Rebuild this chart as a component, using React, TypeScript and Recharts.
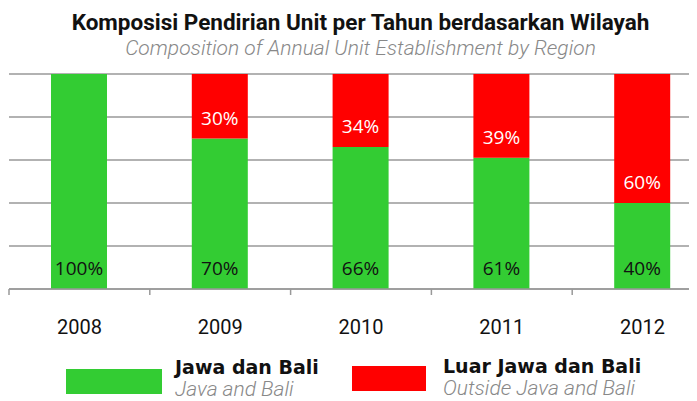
import React from "react";
import { BarChart, Bar, XAxis, YAxis, CartesianGrid, LabelList } from "recharts";

const years = ["2008", "2009", "2010", "2011", "2012"];
const javaBali = [100, 70, 66, 61, 40];
const outsideJavaBali = [0, 30, 34, 39, 60];
const yTicks = [0, 20, 40, 60, 80, 100];

const seriesNames = ["Jawa dan Bali", "Luar Jawa dan Bali"];
const seriesNamesEn = ["Java and Bali", "Outside Java and Bali"];

const data = years.map((year, i) => ({
  year,
  java: javaBali[i],
  outside: outsideJavaBali[i],
}));

const CHART_W = 705;
const CHART_H = 393;
const MARGIN = { top: 66, right: 0, left: 1, bottom: 72 };
const HALF_BAND = (CHART_W - MARGIN.left - MARGIN.right) / years.length / 2;

const GREEN = "#33cc33";
const RED = "#ff0000";

const YearTick = ({ x, y, payload }: any) => (
  <g>
    <line x1={x - HALF_BAND} x2={x - HALF_BAND} y1={y} y2={y + 6} stroke="#999" strokeWidth={1.5} />
    <text x={x} y={y + 45} textAnchor="middle" fill="#111" fontSize={20} fontFamily="Roboto">
      {payload.value}
    </text>
  </g>
);

const makeLabel = (color: string) => (props: any) => {
  const { x, y, width, height, value } = props;
  if (!value) return null;
  return (
    <text
      x={x + width / 2}
      y={y + height - 14}
      textAnchor="middle"
      fill={color}
      fontSize={19}
      fontFamily="Open Sans"
    >
      {value}%
    </text>
  );
};

const ChartLegend = () => {
  const colors = [GREEN, RED];
  const lefts = [58, 344];
  const boxW = [96, 74];
  const tops = [361, 358];
  return (
    <>
      {seriesNames.map((name, i) => (
        <div key={name} style={{ position: "absolute", left: lefts[i], top: tops[i] }}>
          <div style={{ width: boxW[i], height: 25, background: colors[i] }} />
          <div
            style={{
              position: "absolute",
              left: boxW[i] + (i === 0 ? 13 : 17),
              top: i === 0 ? -15 : -13,
              whiteSpace: "nowrap",
            }}
          >
            <div style={{ fontFamily: "DejaVu Sans", fontWeight: 700, fontSize: 19, color: "#111", lineHeight: "26px" }}>
              {name}
            </div>
            <div
              style={{
                fontFamily: "Roboto",
                fontStyle: "italic",
                fontWeight: 300,
                fontSize: 21,
                color: "#888",
                lineHeight: "20px",
                marginTop: -1,
              }}
            >
              {seriesNamesEn[i]}
            </div>
          </div>
        </div>
      ))}
    </>
  );
};

export default function App() {
  return (
    <div style={{ width: 689, height: 393, overflow: "hidden", position: "relative", background: "#fff" }}>
      <div
        style={{
          position: "absolute",
          left: 0,
          top: 1,
          width: CHART_W,
          textAlign: "center",
          fontFamily: "Roboto",
          lineHeight: "26px",
          zIndex: 1,
        }}
      >
        <div style={{ fontWeight: 700, fontSize: 22.5, color: "#111" }}>
          Komposisi Pendirian Unit per Tahun berdasarkan Wilayah
        </div>
        <div style={{ fontStyle: "italic", fontWeight: 300, fontSize: 21, color: "#888" }}>
          Composition of Annual Unit Establishment by Region
        </div>
      </div>
      <BarChart width={CHART_W} height={CHART_H} data={data} margin={MARGIN} barSize={56}>
        <CartesianGrid vertical={false} stroke="#999" strokeWidth={1.5} />
        <XAxis
          dataKey="year"
          tickLine={false}
          tickSize={0}
          tickMargin={0}
          height={40}
          axisLine={{ stroke: "#999", strokeWidth: 1.5 }}
          tick={<YearTick />}
          interval={0}
        />
        <YAxis hide domain={[0, 100]} ticks={yTicks} />
        <Bar dataKey="java" name={seriesNames[0]} stackId="a" fill={GREEN} isAnimationActive={false}>
          <LabelList dataKey="java" content={makeLabel("#111")} />
        </Bar>
        <Bar dataKey="outside" name={seriesNames[1]} stackId="a" fill={RED} isAnimationActive={false}>
          <LabelList dataKey="outside" content={makeLabel("#fff")} />
        </Bar>
      </BarChart>
      <ChartLegend />
    </div>
  );
}
